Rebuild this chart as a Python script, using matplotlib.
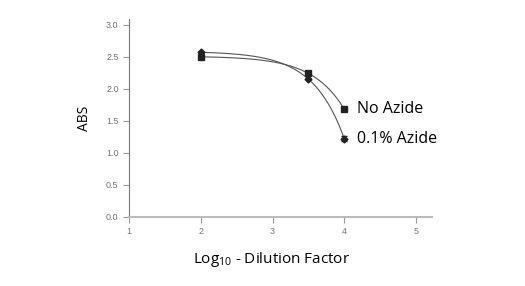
import numpy as np
import matplotlib
matplotlib.use("Agg")
import matplotlib.pyplot as plt

# Valores
log_diluicao = [2, 3.5, 4]
abs_sem_azida = [2.50, 2.24, 1.68]
abs_com_azida = [2.57, 2.15, 1.22]
erro_com_azida = [0.0, 0.0, 0.04]
rotulos = ["No Azide", "0.1% Azide"]


def ajuste_exp(x, y):
    # y = A - B*exp(k*(x - x0)), resolvido pelos três pontos
    x0 = x[0]
    d1 = y[0] - y[1]
    d2 = y[0] - y[2]
    alvo = d2 / d1
    lo, hi = 1e-3, 10.0
    for _ in range(80):
        k = (lo + hi) / 2
        r = (np.exp(k * (x[2] - x0)) - 1) / (np.exp(k * (x[1] - x0)) - 1)
        if r < alvo:
            lo = k
        else:
            hi = k
    B = d2 / (np.exp(k * (x[2] - x0)) - 1)
    A = y[0] + B
    xs = np.linspace(x[0], x[-1], 200)
    return xs, A - B * np.exp(k * (xs - x0))


plt.rcParams['font.family'] = ['Open Sans', 'DejaVu Sans']
plt.rcParams['mathtext.default'] = 'regular'
fig = plt.figure(figsize=(5.25, 2.86), dpi=100)
ax = fig.add_axes([0.2457, 0.2413, 0.577, 0.6923])

cinza = "#9a9a9a"
linha = "#555555"

xs, ys = ajuste_exp(log_diluicao, abs_sem_azida)
ax.plot(xs, ys, color=linha, lw=0.8)
xs, ys = ajuste_exp(log_diluicao, abs_com_azida)
ax.plot(xs, ys, color=linha, lw=0.8)

ax.plot(log_diluicao, abs_sem_azida, 's', color="#222222", ms=4.5, ls='none')
ax.errorbar(log_diluicao, abs_com_azida, yerr=erro_com_azida, fmt='D',
            color="#222222", ms=3.5, ecolor="#222222", elinewidth=0.8, capsize=2)

ax.text(4.17, abs_sem_azida[-1], rotulos[0], fontsize=11.5, va='center', ha='left')
ax.text(4.17, abs_com_azida[-1], rotulos[1], fontsize=11.5, va='center', ha='left')

ax.set_xlim(1, 5.22)
ax.set_ylim(0, 3.09)
ax.set_xticks([1, 2, 3, 4, 5])
ax.set_yticks([0.0, 0.5, 1.0, 1.5, 2.0, 2.5, 3.0])
ax.set_yticklabels(["0.0", "0.5", "1.0", "1.5", "2.0", "2.5", "3.0"])
for t in ax.get_xticklabels() + ax.get_yticklabels():
    t.set_family(['Liberation Sans', 'DejaVu Sans'])

for lado in ['top', 'right']:
    ax.spines[lado].set_visible(False)
ax.spines['left'].set_color("#777777")
ax.spines['bottom'].set_color("#bbbbbb")
ax.spines['bottom'].set_linewidth(1.5)
ax.spines['left'].set_linewidth(0.8)
ax.tick_params(axis='both', colors=cinza, labelsize=6.5, length=4, width=0.8,
               labelcolor="#777777", direction='out')

ax.set_ylabel("ABS", fontsize=10, labelpad=10)
ax.set_xlabel("Log$_{10}$ - Dilution Factor", fontsize=11)
ax.xaxis.set_label_coords(0.469, -0.165)

fig.savefig("out.png", dpi=100)
